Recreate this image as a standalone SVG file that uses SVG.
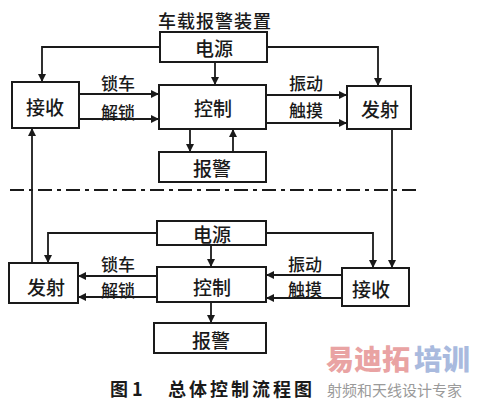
<svg xmlns="http://www.w3.org/2000/svg" width="477" height="400" viewBox="0 0 477 400">
<defs>
<marker id="ah" viewBox="0 0 10 10" refX="10" refY="5" markerWidth="8" markerHeight="8" markerUnits="userSpaceOnUse" orient="auto">
<path d="M0,0 L10,5 L0,10 z" fill="#1a1a1a"/>
</marker>
<style>
.box{fill:#fff;stroke:#1a1a1a;stroke-width:2}
.t{font-family:"Noto Sans CJK SC","Noto Sans",sans-serif;font-size:19px;font-weight:500;fill:#1a1a1a;text-anchor:middle;dominant-baseline:central}
.lb{font-family:"Noto Sans CJK SC","Noto Sans",sans-serif;font-size:17px;font-weight:500;fill:#1a1a1a;text-anchor:middle;dominant-baseline:central}
.c{fill:none;stroke:#1a1a1a;stroke-width:1.8}
.a{marker-end:url(#ah)}
.cap{font-family:"Noto Sans CJK SC","Noto Sans",sans-serif;font-size:18px;font-weight:700;fill:#1a1a1a;dominant-baseline:central}
.wm{font-family:"Noto Sans CJK SC",sans-serif}
</style>
</defs>
<rect width="477" height="400" fill="#fff"/>
<text class="t" x="215" y="20" style="font-size:18px;letter-spacing:1px">车载报警装置</text>

<g id="connectors">
<path class="c a" d="M160,47 H42 V82"/>
<path class="c a" d="M267,47 H378 V86"/>
<path class="c a" d="M215,62 V85"/>
<path class="c a" d="M79,94 H159"/>
<path class="c a" d="M79,119 H159"/>
<path class="c a" d="M266,95 H347"/>
<path class="c a" d="M266,123 H347"/>
<path class="c a" d="M190,129 V152"/>
<path class="c a" d="M233,152 V129"/>
<path class="c a" d="M392,129 V268"/>
<path class="c a" d="M32,263 V128"/>
<path class="c a" d="M157,233 H48 V263"/>
<path class="c a" d="M266,233 H373 V268"/>
<path class="c a" d="M211,245 V267"/>
<path class="c a" d="M157,276 H78"/>
<path class="c a" d="M157,297 H78"/>
<path class="c a" d="M342,275 H266"/>
<path class="c a" d="M342,298 H266"/>
<path class="c a" d="M211,302 V323"/>
<text class="lb" x="118" y="82">锁车</text>
<text class="lb" x="118" y="111">解锁</text>
<text class="lb" x="306" y="82">振动</text>
<text class="lb" x="306" y="109">触摸</text>
<text class="lb" x="118" y="263">锁车</text>
<text class="lb" x="118" y="289">解锁</text>
<text class="lb" x="305" y="263">振动</text>
<text class="lb" x="305" y="288">触摸</text>
</g>

<line x1="10" y1="190" x2="417" y2="190" stroke="#1a1a1a" stroke-width="2" stroke-dasharray="14 5 4 5"/>

<g id="power1"><rect class="box" x="160" y="32" width="107" height="30"/><text class="t" x="214" y="47">电源</text></g>
<g id="recv1"><rect class="box" x="12" y="82" width="67" height="46"/><text class="t" x="45" y="106">接收</text></g>
<g id="ctrl1"><rect class="box" x="159" y="85" width="107" height="44"/><text class="t" x="213" y="107">控制</text></g>
<g id="send1"><rect class="box" x="347" y="86" width="64" height="43"/><text class="t" x="380" y="108">发射</text></g>
<g id="alarm1"><rect class="box" x="159" y="152" width="107" height="30"/><text class="t" x="212" y="167">报警</text></g>

<g id="power2"><rect class="box" x="157" y="221" width="109" height="24"/><text class="t" x="212" y="233">电源</text></g>
<g id="send2"><rect class="box" x="9" y="263" width="69" height="40"/><text class="t" x="46" y="286">发射</text></g>
<g id="ctrl2"><rect class="box" x="157" y="267" width="109" height="35"/><text class="t" x="212" y="286">控制</text></g>
<g id="recv2"><rect class="box" x="342" y="268" width="67" height="38"/><text class="t" x="371" y="288">接收</text></g>
<g id="alarm2"><rect class="box" x="154" y="323" width="112" height="30"/><text class="t" x="211" y="339">报警</text></g>

<text class="cap" x="110" y="388">图 1</text>
<text class="cap" x="168" y="388" style="letter-spacing:3px">总体控制流程图</text>

<text class="wm" x="326" y="370" style="font-size:28px;font-weight:900" fill="#e9a3a3">易迪拓</text>
<text class="wm" x="414" y="370" style="font-size:28px;font-weight:900" fill="#a9bade">培训</text>
<text class="wm" x="327" y="396" style="font-size:15px" fill="#9a9a9a">射频和天线设计专家</text>
</svg>
